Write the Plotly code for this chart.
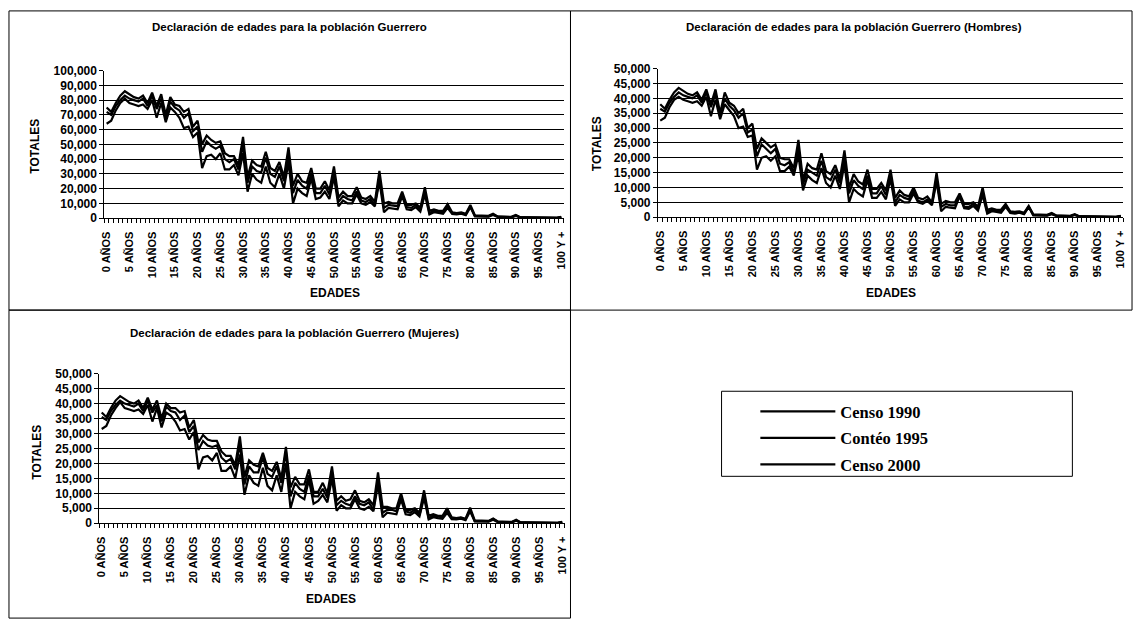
import plotly.graph_objects as go

ages = list(range(101))
tick_pos = list(range(0, 101, 5))
tick_text = [f"{a} AÑOS" for a in range(0, 100, 5)] + ["100 Y +"]

series_names = ["Censo 1990", "Contéo 1995", "Censo 2000"]

# ---- Total population (Guerrero) ----
total_1990 = [64000, 66000, 73000, 78000, 81000, 78000, 77000, 76000, 77000, 74000,
              80000, 68000, 78000, 65000, 75000, 72000, 68000, 61000, 62000, 55000,
              58000, 34000, 42000, 43000, 40000, 44000, 33000, 33000, 36000, 29000,
              44000, 18000, 30000, 26000, 24000, 35000, 24000, 21000, 30000, 20000,
              38000, 10000, 20000, 17000, 15000, 27000, 13000, 14000, 18000, 13000,
              28000, 8000, 12000, 10000, 10000, 16000, 10000, 9000, 11000, 8000,
              25000, 4000, 7000, 6500, 6000, 15000, 6000, 5500, 7500, 4500,
              16000, 2500, 4000, 3500, 3000, 7000, 2800, 2500, 3000, 2000,
              7500, 1200, 1300, 1200, 1000, 2200, 800, 700, 800, 600,
              1600, 400, 400, 300, 300, 500, 200, 200, 200, 150, 700]
total_1995 = [72000, 70000, 76000, 80000, 83000, 81000, 80000, 79000, 81000, 76000,
              83000, 74000, 81000, 68000, 79000, 75000, 73000, 68000, 71000, 59000,
              62000, 45000, 52000, 49000, 47000, 49000, 40000, 38000, 40000, 33000,
              50000, 24000, 35000, 32000, 31000, 41000, 30000, 28000, 35000, 25000,
              44000, 17000, 26000, 22000, 20000, 30000, 17000, 17000, 22000, 16000,
              31000, 11000, 15000, 13000, 12000, 18000, 12000, 11000, 13000, 9000,
              28000, 7000, 9000, 8500, 8000, 16000, 7500, 7000, 9000, 5500,
              18000, 3500, 5000, 4500, 4000, 8000, 3500, 3000, 3500, 2500,
              8000, 1500, 1600, 1500, 1300, 2600, 1000, 900, 1000, 700,
              1800, 500, 500, 400, 350, 600, 250, 250, 250, 200, 800]
total_2000 = [75000, 72000, 78000, 83000, 86000, 84000, 82000, 81000, 83000, 78000,
              85000, 76000, 84000, 70000, 82000, 77000, 76000, 72000, 74000, 62000,
              66000, 50000, 56000, 53000, 51000, 52000, 44000, 42000, 42000, 36000,
              55000, 28000, 39000, 36000, 35000, 45000, 34000, 32000, 38000, 28000,
              48000, 22000, 30000, 25000, 24000, 34000, 20000, 20000, 25000, 19000,
              35000, 14000, 18000, 15000, 15000, 21000, 14000, 13000, 15000, 11000,
              32000, 10000, 11000, 10000, 10000, 18000, 9000, 9000, 10000, 7000,
              21000, 5000, 6000, 5000, 5000, 9500, 4000, 3500, 4000, 3000,
              9000, 2000, 2000, 1800, 1600, 3000, 1200, 1100, 1200, 900,
              2200, 600, 600, 500, 400, 700, 300, 300, 300, 250, 900]

# ---- Men ----
men_1990 = [32500, 33500, 37000, 39500, 40500, 39500, 39000, 38500, 39000, 37500,
            40500, 34000, 39500, 33000, 38000, 36000, 34000, 30000, 30500, 27000,
            27500, 16000, 20000, 20500, 19000, 20500, 15500, 15500, 17000, 14000,
            21000, 9000, 14000, 12500, 11500, 16500, 11500, 10000, 14000, 9500,
            18000, 5000, 9500, 8000, 7000, 12500, 6500, 6500, 8500, 6000,
            13000, 3800, 6000, 5000, 5000, 8000, 5000, 4500, 5500, 4000,
            12000, 2000, 3500, 3200, 3000, 7000, 3000, 2800, 3800, 2200,
            7500, 1200, 2000, 1800, 1500, 3500, 1400, 1200, 1500, 1000,
            3500, 600, 650, 600, 500, 1000, 400, 350, 400, 300,
            750, 200, 200, 150, 150, 250, 100, 100, 100, 80, 350]
men_1995 = [36500, 35500, 38500, 40500, 42000, 41000, 40500, 40000, 41000, 38500,
            42000, 37000, 41500, 34000, 40000, 37500, 36000, 33500, 35000, 28500,
            29500, 20500, 24500, 23000, 21500, 23000, 18000, 17500, 18500, 15000,
            23500, 11000, 16000, 15000, 14000, 19000, 13500, 12500, 16000, 11500,
            20000, 8000, 12500, 10500, 9500, 14000, 8000, 8000, 10500, 7500,
            14000, 5000, 7500, 6500, 6000, 9000, 5500, 5000, 6000, 4500,
            13000, 3500, 4500, 4000, 4000, 7500, 3500, 3500, 4500, 2800,
            8500, 1800, 2500, 2200, 2000, 4000, 1700, 1500, 1700, 1200,
            3500, 800, 800, 750, 650, 1200, 500, 450, 500, 350,
            850, 250, 250, 200, 180, 300, 120, 120, 120, 100, 400]
men_2000 = [38000, 36500, 39500, 42000, 43500, 42500, 41500, 41000, 42000, 39500,
            43000, 38000, 43000, 35000, 42000, 38500, 37500, 35000, 36500, 30000,
            31500, 23000, 26500, 25000, 23500, 24500, 20000, 19500, 19500, 16500,
            26000, 12500, 18000, 16500, 16000, 21500, 15500, 14500, 17500, 13000,
            22500, 10000, 14500, 12000, 11000, 16000, 9500, 9500, 11500, 9000,
            16000, 6500, 9000, 7500, 7000, 10000, 6500, 6000, 7000, 5000,
            15000, 4500, 5500, 5000, 5000, 8000, 4500, 4500, 5000, 3500,
            10000, 2500, 3000, 2500, 2500, 4500, 2000, 1800, 2000, 1500,
            3800, 1000, 1000, 900, 800, 1400, 600, 550, 600, 450,
            1000, 300, 300, 250, 200, 350, 150, 150, 150, 120, 450]

# ---- Women ----
women_1990 = [31500, 32500, 36000, 38500, 40500, 38500, 38000, 37500, 38000, 36500,
              39500, 34000, 38500, 32000, 37000, 36000, 34000, 31000, 31500, 28000,
              30500, 18000, 22000, 22500, 21000, 23500, 17500, 17500, 19000, 15000,
              23000, 9500, 16000, 13500, 12500, 18500, 12500, 11000, 16000, 10500,
              20000, 5000, 10500, 9000, 8000, 14500, 6500, 7500, 9500, 7000,
              15000, 4200, 6000, 5000, 5000, 8000, 5000, 4500, 5500, 4000,
              13000, 2000, 3500, 3300, 3000, 8000, 3000, 2700, 3700, 2300,
              8500, 1300, 2000, 1700, 1500, 3500, 1400, 1300, 1500, 1000,
              4000, 600, 650, 600, 500, 1200, 400, 350, 400, 300,
              850, 200, 200, 150, 150, 250, 100, 100, 100, 70, 350]
women_1995 = [35500, 34500, 37500, 39500, 41000, 40000, 39500, 39000, 40000, 37500,
              41000, 37000, 39500, 34000, 39000, 37500, 37000, 34500, 36000, 30500,
              32500, 24500, 27500, 26000, 25500, 26000, 22000, 20500, 21500, 18000,
              26500, 13000, 19000, 17000, 17000, 22000, 16500, 15500, 19000, 13500,
              24000, 9000, 13500, 11500, 10500, 16000, 9000, 9000, 11500, 8500,
              17000, 6000, 7500, 6500, 6000, 9000, 6500, 6000, 7000, 4500,
              15000, 3500, 4500, 4500, 4000, 8500, 4000, 3500, 4500, 2700,
              9500, 1700, 2500, 2300, 2000, 4000, 1800, 1500, 1800, 1300,
              4500, 700, 800, 750, 650, 1400, 500, 450, 500, 350,
              950, 250, 250, 200, 170, 300, 130, 130, 130, 100, 400]
women_2000 = [37000, 35500, 38500, 41000, 42500, 41500, 40500, 40000, 41000, 38500,
              42000, 38000, 41000, 35000, 40000, 38500, 38500, 37000, 37500, 32000,
              34500, 27000, 29500, 28000, 27500, 27500, 24000, 22500, 22500, 19500,
              29000, 15500, 21000, 19500, 19000, 23500, 18500, 17500, 20500, 15000,
              25500, 12000, 15500, 13000, 13000, 18000, 10500, 10500, 13500, 10000,
              19000, 7500, 9000, 7500, 8000, 11000, 7500, 7000, 8000, 6000,
              17000, 5500, 5500, 5000, 5000, 10000, 4500, 4500, 5000, 3500,
              11000, 2500, 3000, 2500, 2500, 5000, 2000, 1700, 2000, 1500,
              5200, 1000, 1000, 900, 800, 1600, 600, 550, 600, 450,
              1200, 300, 300, 250, 200, 350, 150, 150, 150, 130, 450]

W, H = 1138, 629
def px(x): return x / W
def py(y): return 1 - y / H

panels = [
    dict(data=[total_1990, total_1995, total_2000], n="",
         xd=[px(101), px(563)], yd=[py(216), py(65)], ymax=100000,
         title="Declaración de edades para la población Guerrero", tx=287, ty=20,
         ytx=31, yty=142, etx=333, ety=292),
    dict(data=[men_1990, men_1995, men_2000], n="2",
         xd=[px(658), px(1126)], yd=[py(215), py(63)], ymax=50000,
         title="Declaración de edades para la población Guerrero (Hombres)", tx=855, ty=20,
         ytx=597, yty=140, etx=892, ety=292),
    dict(data=[women_1990, women_1995, women_2000], n="3",
         xd=[px(96), px(564)], yd=[py(528), py(375)], ymax=50000,
         title="Declaración de edades para la población Guerrero (Mujeres)", tx=292, ty=333,
         ytx=33, yty=455, etx=329, ety=605),
]

fig = go.Figure()
label_font = dict(family="Liberation Sans Narrow, Arial Narrow, Liberation Sans", size=11,
                  color="black", weight="bold")

annotations = []
for pi, p in enumerate(panels):
    n = p["n"]
    xa, ya = "x" + n, "y" + n
    for si, name in enumerate(series_names):
        fig.add_trace(go.Scatter(
            x=ages, y=p["data"][si], mode="lines", name=name,
            line=dict(color="black", width=2.2),
            xaxis=xa, yaxis=ya,
            legendgroup=name, showlegend=(pi == 0),
        ))
    fig.layout["xaxis" + n] = dict(
        domain=p["xd"], anchor=ya, range=[-0.5, 100.5],
        tickmode="array", tickvals=tick_pos, ticktext=tick_text, tickangle=-90,
        ticks="outside", ticklen=8, tickcolor="rgba(0,0,0,0)",
        showline=True, linecolor="black", linewidth=1,
        showgrid=False, zeroline=False, tickfont=dict(label_font, size=11),
        minor=dict(tickmode="linear", tick0=-0.5, dtick=1, ticks="outside",
                   ticklen=4, tickcolor="black", showgrid=False),
    )
    fig.layout["yaxis" + n] = dict(
        domain=p["yd"], anchor=xa, range=[0, p["ymax"]],
        dtick=p["ymax"] / 10, tickformat=",d", ticks="outside", ticklen=4,
        tickcolor="black", showline=True, linecolor="black", linewidth=1,
        showgrid=False, zeroline=False,
        tickfont=dict(label_font, size=12),
    )
    gn = str(4 + pi)
    fig.layout["yaxis" + gn] = dict(
        overlaying=ya, anchor=xa, range=[0, p["ymax"]],
        tickmode="array", tickvals=[p["ymax"] / 10 * k for k in range(1, 10)],
        showticklabels=False, ticks="", showline=False, zeroline=False,
        showgrid=True, gridcolor="black", gridwidth=1, layer="below traces",
    )
    annotations.append(dict(text=p["title"], x=px(p["tx"]), y=py(p["ty"]),
                            xref="paper", yref="paper", showarrow=False,
                            xanchor="center", yanchor="middle",
                            font=dict(family="Liberation Sans", size=11.5, color="black",
                                      weight="bold")))
    annotations.append(dict(text="TOTALES", x=px(p["ytx"]), y=py(p["yty"]),
                            xref="paper", yref="paper", showarrow=False, textangle=-90,
                            xanchor="center", yanchor="middle",
                            font=dict(label_font, size=12)))
    annotations.append(dict(text="EDADES", x=px(p["etx"]), y=py(p["ety"]),
                            xref="paper", yref="paper", showarrow=False,
                            xanchor="center", yanchor="middle",
                            font=dict(label_font, size=12)))

for pi, p in enumerate(panels):
    fig.add_trace(go.Scatter(x=[None], y=[None], xaxis="x" + p["n"], yaxis="y" + str(4 + pi),
                             showlegend=False, hoverinfo="skip"))

shapes = [
    dict(type="rect", xref="paper", yref="paper", x0=px(5), x1=px(570), y0=py(310), y1=py(4),
         line=dict(color="black", width=1)),
    dict(type="rect", xref="paper", yref="paper", x0=px(570), x1=px(1135), y0=py(310), y1=py(4),
         line=dict(color="black", width=1)),
    dict(type="rect", xref="paper", yref="paper", x0=px(5), x1=px(570), y0=py(625), y1=py(310),
         line=dict(color="black", width=1)),
    dict(type="rect", xref="paper", yref="paper", x0=px(722), x1=px(1075), y0=py(480), y1=py(393),
         line=dict(color="black", width=1)),
]

fig.update_layout(
    width=W, height=H, margin=dict(l=0, r=0, t=0, b=0),
    paper_bgcolor="white", plot_bgcolor="white",
    annotations=annotations, shapes=shapes,
    showlegend=True,
    legend=dict(x=px(756), y=py(396), xanchor="left", yanchor="top",
                bgcolor="rgba(0,0,0,0)", borderwidth=0, itemwidth=75,
                tracegroupgap=2,
                font=dict(family="Liberation Serif", size=16.5, color="black", weight="bold")),
)

fig.write_html("out.html", config={"displayModeBar": False},
               post_script="document.body.style.margin='0px';")
